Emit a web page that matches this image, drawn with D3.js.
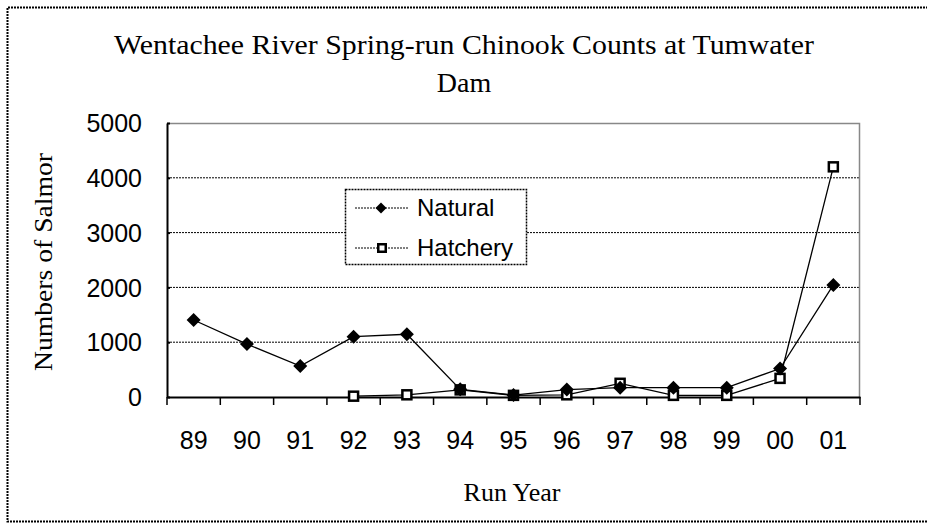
<!DOCTYPE html>
<html>
<head>
<meta charset="utf-8">
<script src="https://cdn.jsdelivr.net/npm/d3@7"></script>
<style>
  body { margin: 0; background: #fff; }
  .tick text { font-family: Arial, "Liberation Sans", sans-serif; font-size: 25px; fill: #000; }
  .title, .axis-title { font-family: "Times New Roman", "Liberation Serif", serif; fill: #000; }
  .legend text { font-family: Arial, "Liberation Sans", sans-serif; font-size: 24px; }
</style>
</head>
<body>
<div id="chart"></div>
<script>
const svgWidth = 927;
const svgHeight = 523;

// data
const years = ['89','90','91','92','93','94','95','96','97','98','99','00','01'];
const natural = [1405, 965, 565, 1100, 1145, 140, 35, 135, 170, 170, 170, 520, 2045];
const hatchery = [null, null, null, 15, 40, 130, 30, 40, 250, 30, 30, 340, 4200];
const yTicks = [0, 1000, 2000, 3000, 4000, 5000];

let margin = { top: 123, left: 167, right: 67, bottom: 126 };
let width = svgWidth - margin.left - margin.right;   // 693
let height = svgHeight - margin.top - margin.bottom;  // 274

let svg = d3.select('#chart')
  .append('svg')
  .attr('width', svgWidth)
  .attr('height', svgHeight);

// outer frame (right side runs off the picture)
svg.append('path')
  .attr('d', 'M940,7.5 H7.5 V521.5 H940')
  .attr('fill', 'none')
  .attr('stroke', '#000')
  .attr('stroke-width', 2)
  .attr('stroke-dasharray', '2,1');

// title
let title = svg.append('text')
  .attr('class', 'title')
  .attr('text-anchor', 'middle')
  .attr('font-size', 28);
title.append('tspan').attr('x', 464).attr('y', 54)
  .attr('textLength', 700).attr('lengthAdjust', 'spacingAndGlyphs')
  .text('Wentachee River Spring-run Chinook Counts at Tumwater');
title.append('tspan').attr('x', 464).attr('y', 92).text('Dam');

let chartGroup = svg.append('g')
  .attr('transform', `translate(${margin.left}, ${margin.top})`);

let x = d3.scaleBand().domain(years).range([0, width]);
let y = d3.scaleLinear().domain([0, 5000]).range([height, 0]);

// gridlines
chartGroup.append('g').selectAll('line')
  .data(yTicks.filter(d => d > 0 && d < 5000))
  .enter().append('line')
  .attr('x1', 0).attr('x2', width)
  .attr('y1', d => y(d)).attr('y2', d => y(d))
  .attr('stroke', '#000')
  .attr('stroke-width', 1)
  .attr('stroke-dasharray', '2,1');

// plot area border (top & right, grey)
chartGroup.append('path')
  .attr('d', `M0,0.5 H${width - 0.5} V${height}`)
  .attr('fill', 'none')
  .attr('stroke', '#888')
  .attr('stroke-width', 1.5);

// y axis
let yAxis = chartGroup.append('g')
  .call(d3.axisLeft(y).tickValues(yTicks).tickFormat(d3.format('d'))
    .tickSize(9).tickPadding(16).tickSizeOuter(0));
yAxis.select('.domain').attr('stroke', '#000').attr('stroke-width', 2);
yAxis.selectAll('.tick line').attr('stroke-width', 2).attr('x2', 3);
yAxis.selectAll('.tick text').attr('dy', '0.35em');

// x axis with ticks between categories
let xAxis = chartGroup.append('g')
  .attr('transform', `translate(0,${height})`)
  .call(d3.axisBottom(x).tickSize(0).tickPadding(43).tickSizeOuter(0));
xAxis.select('.domain').attr('stroke', '#000').attr('stroke-width', 2);
xAxis.selectAll('.tick text').attr('dy', '0.35em');
xAxis.append('g').selectAll('line')
  .data(years.concat(['end']))
  .enter().append('line')
  .attr('x1', (d, i) => i * x.step()).attr('x2', (d, i) => i * x.step())
  .attr('y1', 0).attr('y2', 8)
  .attr('stroke', '#000')
  .attr('stroke-width', 1.5);

// axis titles
svg.append('text')
  .attr('class', 'axis-title')
  .attr('text-anchor', 'middle')
  .attr('font-size', 25)
  .attr('textLength', 218).attr('lengthAdjust', 'spacingAndGlyphs')
  .attr('transform', `translate(52, 262) rotate(-90)`)
  .text('Numbers of Salmor');

svg.append('text')
  .attr('class', 'axis-title')
  .attr('text-anchor', 'middle')
  .attr('font-size', 26)
  .attr('x', 512).attr('y', 501)
  .text('Run Year');

let cx = d => x(d) + x.bandwidth() / 2;

let line = d3.line()
  .defined(d => d.v !== null)
  .x(d => cx(d.year))
  .y(d => y(d.v));

let natData = years.map((yr, i) => ({ year: yr, v: natural[i] }));
let hatData = years.map((yr, i) => ({ year: yr, v: hatchery[i] }));

chartGroup.append('path')
  .datum(hatData)
  .attr('d', line)
  .attr('fill', 'none')
  .attr('stroke', '#000')
  .attr('stroke-width', 1.3);

chartGroup.append('path')
  .datum(natData)
  .attr('d', line)
  .attr('fill', 'none')
  .attr('stroke', '#000')
  .attr('stroke-width', 1.3);

function diamond(g, px, py, r) {
  g.append('path')
    .attr('d', `M${px},${py - r} L${px + r},${py} L${px},${py + r} L${px - r},${py} Z`)
    .attr('fill', '#000');
}
function square(g, px, py, s) {
  g.append('rect')
    .attr('x', px - s / 2).attr('y', py - s / 2)
    .attr('width', s).attr('height', s)
    .attr('fill', '#fff')
    .attr('stroke', '#000')
    .attr('stroke-width', 2.5);
}

let hatMarks = chartGroup.append('g');
hatData.filter(d => d.v !== null).forEach(d => square(hatMarks, cx(d.year), y(d.v), 9));
let natMarks = chartGroup.append('g');
natData.forEach(d => diamond(natMarks, cx(d.year), y(d.v), 7));

// legend
let legend = svg.append('g').attr('class', 'legend');
legend.append('rect')
  .attr('x', 345.5).attr('y', 189.5)
  .attr('width', 181).attr('height', 75)
  .attr('fill', '#fff')
  .attr('stroke', '#000')
  .attr('stroke-width', 1.5)
  .attr('stroke-dasharray', '2,1');

[['Natural', 208], ['Hatchery', 248]].forEach(([name, ly], i) => {
  legend.append('line')
    .attr('x1', 355).attr('x2', 409)
    .attr('y1', ly).attr('y2', ly)
    .attr('stroke', '#000')
    .attr('stroke-dasharray', '2,1');
  if (i === 0) diamond(legend, 381, ly, 5.5);
  else square(legend, 382, ly, 7.5);
  legend.append('text')
    .attr('x', 417).attr('y', ly)
    .attr('dy', '0.35em')
    .text(name);
});
</script>
</body>
</html>
